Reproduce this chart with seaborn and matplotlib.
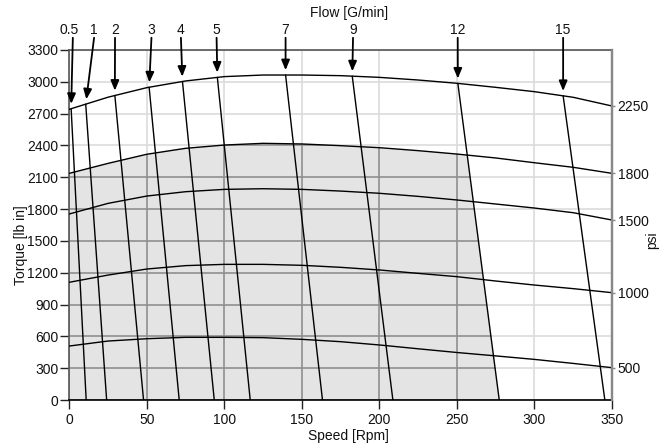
import numpy as np
import pandas as pd
import seaborn as sns
import matplotlib.pyplot as plt
from matplotlib.patches import Polygon

# pressure curves (torque vs speed)
speed = [0, 25, 50, 75, 100, 125, 150, 175, 200, 225, 250, 275, 300, 325, 350]
psi_levels = [2250, 1800, 1500, 1000, 500]
torque_2250 = [2741, 2855, 2945, 3008, 3049, 3064, 3064, 3058, 3042, 3017, 2986, 2948, 2907, 2854, 2772]
torque_1800 = [2137, 2231, 2317, 2373, 2404, 2420, 2414, 2398, 2379, 2351, 2319, 2282, 2237, 2194, 2137]
torque_1500 = [1754, 1854, 1923, 1964, 1986, 1992, 1986, 1970, 1949, 1920, 1886, 1848, 1810, 1766, 1697]
torque_1000 = [1110, 1178, 1235, 1267, 1279, 1279, 1270, 1251, 1226, 1194, 1163, 1122, 1084, 1050, 1012]
torque_500 = [509, 556, 578, 591, 591, 588, 572, 550, 519, 483, 448, 416, 383, 345, 305]

# flow lines: start on the 2250 psi curve, end at zero torque
flow_labels = ['0.5', '1', '2', '3', '4', '5', '7', '9', '12', '15']
flow_top_speed = [1.2, 10.6, 29.4, 51.5, 73, 95.5, 139.5, 182.5, 250.6, 318.5]
flow_bottom_speed = [10.9, 24.1, 47.9, 70.9, 93.5, 116.7, 163.3, 208.7, 277.3, 345.4]
flow_label_speed = [0, 16, 29.5, 53, 72, 95, 139.5, 183, 250.5, 318.5]
arrow_tail_speed = [2.3, 16, 29.5, 53, 72, 95, 139.5, 183, 250.5, 318.5]

x_ticks = [0, 50, 100, 150, 200, 250, 300, 350]
y_ticks = [0, 300, 600, 900, 1200, 1500, 1800, 2100, 2400, 2700, 3000, 3300]

sns.set_theme(style='white')
plt.rcParams['font.family'] = ['Liberation Sans', 'DejaVu Sans']
plt.rcParams['font.size'] = 10

curves = [torque_2250, torque_1800, torque_1500, torque_1000, torque_500]
df_p = pd.concat([pd.DataFrame({'speed': speed, 'torque': t, 'psi': p})
                  for p, t in zip(psi_levels, curves)])

flow_top_torque = np.interp(flow_top_speed, speed, torque_2250)
rows = []
for lab, ts, tt, bs in zip(flow_labels, flow_top_speed, flow_top_torque, flow_bottom_speed):
    rows.append({'flow': lab, 'speed': ts, 'torque': tt})
    rows.append({'flow': lab, 'speed': bs, 'torque': 0})
df_f = pd.DataFrame(rows)

fig = plt.figure(figsize=(6.7, 4.46), dpi=100)
ax = fig.add_axes([0.1034, 0.1031, 0.81, 0.7848])
ax.set_xlim(0, 350)
ax.set_ylim(0, 3300)
ax.set_xticks(x_ticks)
ax.set_yticks(y_ticks)
ax.set_axisbelow(True)
ax.grid(True, color='#dcdcdc', lw=1.2)

# shaded operating region: under the 1800 psi curve, left of the 12 G/min line
i12 = flow_labels.index('12')
t_s, t_t, b_s = flow_top_speed[i12], flow_top_torque[i12], flow_bottom_speed[i12]
xs = np.linspace(0, b_s, 800)
line12 = np.where(xs > t_s, t_t * (b_s - xs) / (b_s - t_s), 1e9)
upper = np.minimum(np.interp(xs, speed, torque_1800), line12)
verts = np.vstack([[[0, 0]], np.column_stack([xs, upper]), [[b_s, 0]]])
poly = Polygon(verts, closed=True, facecolor='#e4e4e4', edgecolor='none', zorder=0.8)
ax.add_patch(poly)
for x in x_ticks:
    ln = ax.axvline(x, color='#8f8f8f', lw=1.2, zorder=1)
    ln.set_clip_path(poly)
for y in y_ticks:
    ln = ax.axhline(y, color='#8f8f8f', lw=1.2, zorder=1)
    ln.set_clip_path(poly)

sns.lineplot(data=df_p, x='speed', y='torque', units='psi', estimator=None,
             color='black', lw=1, sort=False, ax=ax, zorder=3)
sns.lineplot(data=df_f, x='speed', y='torque', units='flow', estimator=None,
             color='black', lw=1, sort=False, ax=ax, zorder=3)

# flow labels with arrows
for lab, lx, ax_s, ts, tt in zip(flow_labels, flow_label_speed, arrow_tail_speed,
                                 flow_top_speed, flow_top_torque):
    ax.text(lx, 1.057, lab, transform=ax.get_xaxis_transform(), ha='center', va='center',
            fontsize=10, color='#111111')
    ax.annotate('', xy=(ts, tt), xycoords='data',
                xytext=(ax_s, 1.035), textcoords=('data', 'axes fraction'),
                arrowprops=dict(arrowstyle='-|>,head_length=0.6,head_width=0.25',
                                color='black', lw=1.3, shrinkA=0, shrinkB=3.5),
                annotation_clip=False)

ax.text(0.516, 1.106, 'Flow [G/min]', transform=ax.transAxes, ha='center', va='center',
        fontsize=10, color='#111111')
ax.set_xlabel('')
ax.set_ylabel('')
ax.text(0.514, -0.104, 'Speed [Rpm]', transform=ax.transAxes, ha='center', va='center',
        fontsize=10, color='#111111')
ax.text(-0.089, 0.443, 'Torque [lb in]', transform=ax.transAxes, ha='center', va='center',
        rotation=90, fontsize=10, color='#111111')
ax.text(1.074, 0.457, 'psi', transform=ax.transAxes, ha='center', va='center',
        rotation=90, fontsize=10, color='#111111')

ax.tick_params(axis='both', which='major', length=6.5, width=1, color='#222222',
               labelsize=10, labelcolor='#111111', left=True, bottom=True)
ax.tick_params(axis='x', pad=3)
ax.tick_params(axis='y', pad=1.5)
for s in ax.spines.values():
    s.set_visible(True)
ax.spines['bottom'].set_color('black')
ax.spines['bottom'].set_linewidth(1.2)
ax.spines['left'].set_color('#555555')
ax.spines['left'].set_linewidth(1.2)
ax.spines['top'].set_color('#555555')
ax.spines['top'].set_linewidth(1.2)
ax.spines['right'].set_color('#888888')
ax.spines['right'].set_linewidth(1.6)

# right axis: psi labels at curve ends
ax2 = ax.twinx()
ax2.set_ylim(ax.get_ylim())
ax2.set_yticks([c[-1] for c in curves])
ax2.set_yticklabels([str(p) for p in psi_levels])
ax2.tick_params(axis='y', length=2.5, width=1, color='#888888', pad=1.5,
                labelsize=10, labelcolor='#111111', right=True)
ax2.grid(False)
for k in ['top', 'left', 'bottom']:
    ax2.spines[k].set_visible(False)
ax2.spines['right'].set_color('#888888')
ax2.spines['right'].set_linewidth(1.6)

fig.savefig('out.png', dpi=100)
